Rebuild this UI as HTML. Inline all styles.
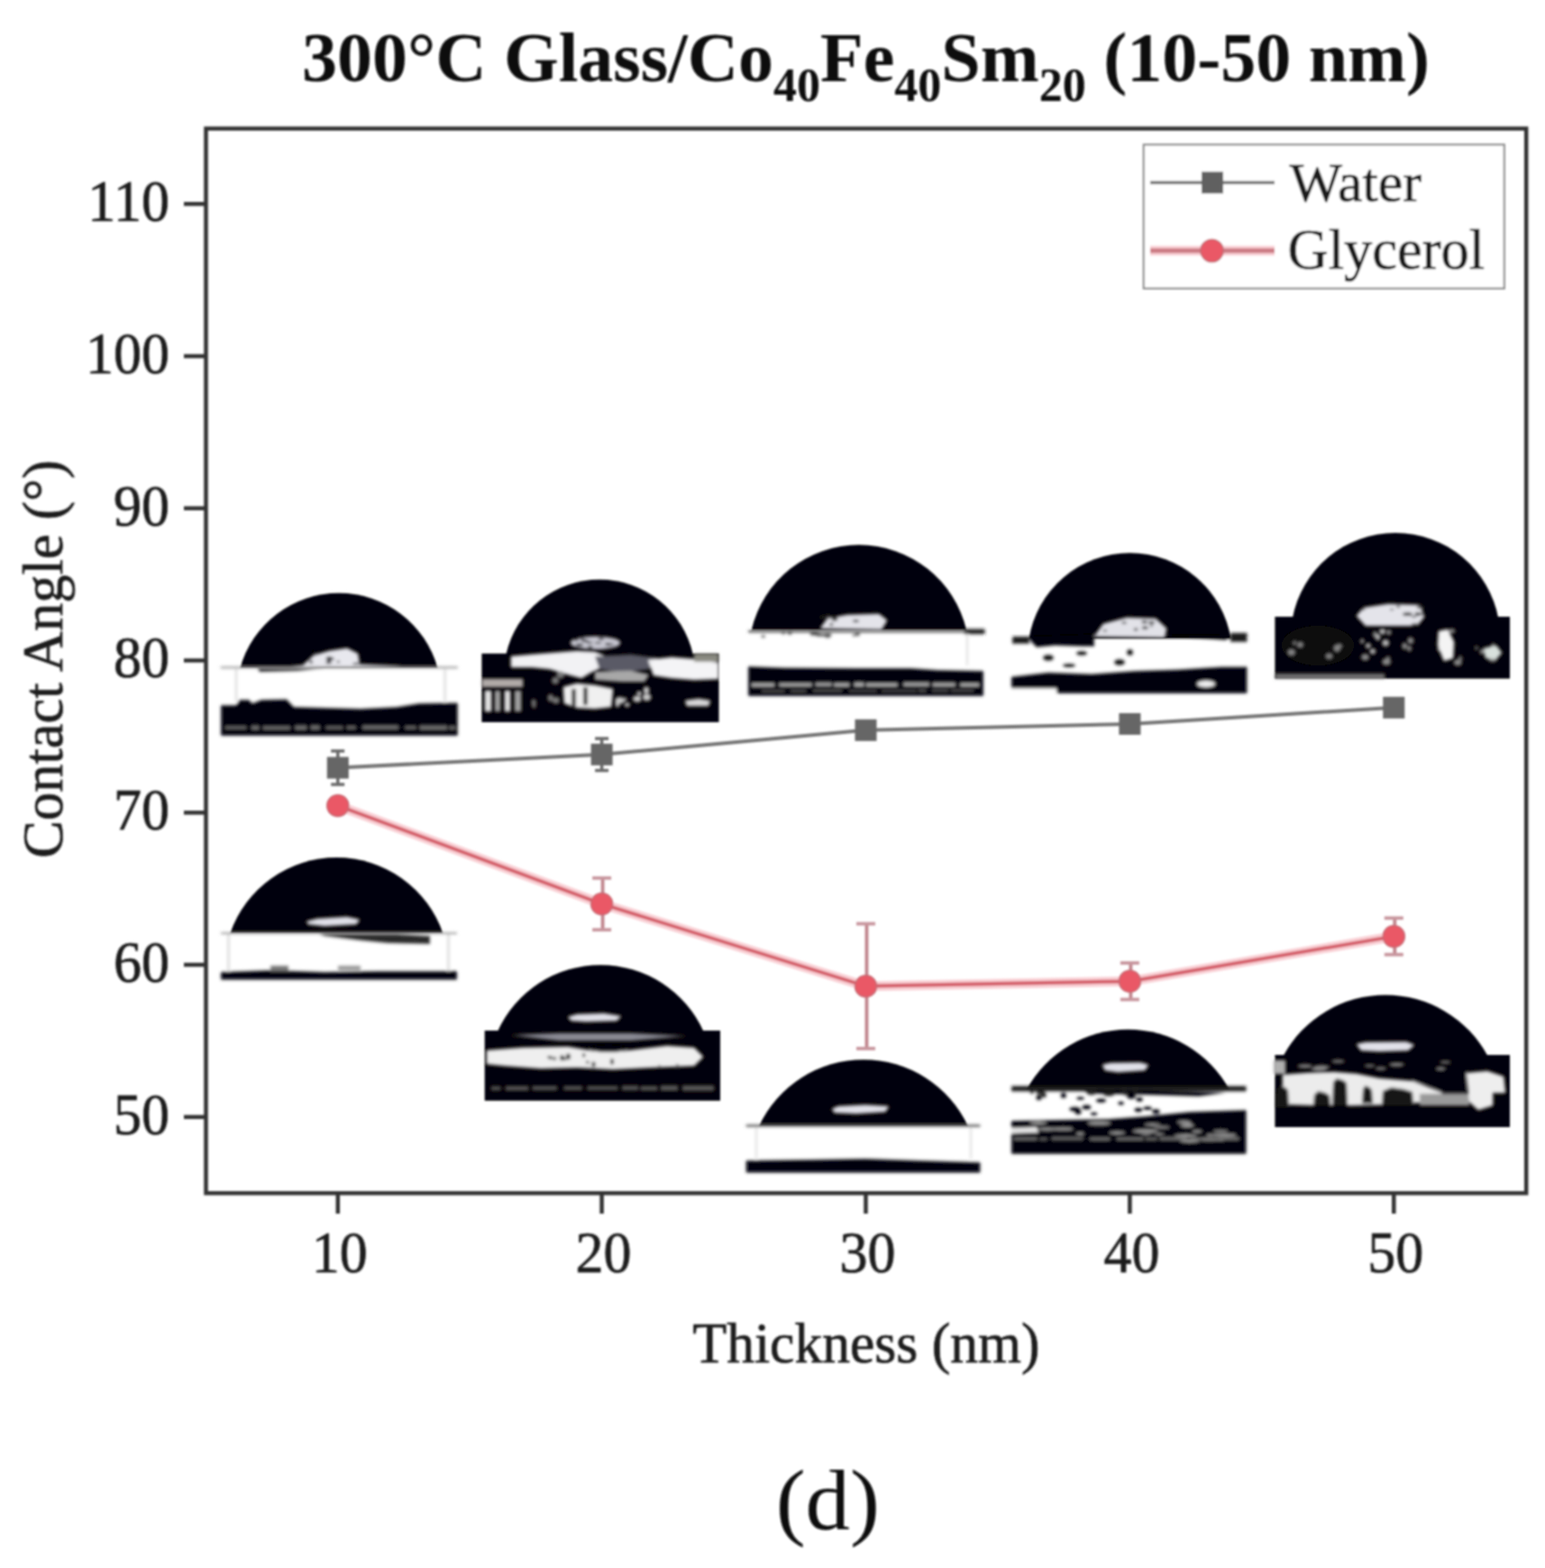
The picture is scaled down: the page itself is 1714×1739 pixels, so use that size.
<!DOCTYPE html>
<html><head><meta charset="utf-8"><title>Contact Angle vs Thickness</title>
<style>
html,body{margin:0;padding:0;background:#fff;}
body{width:1714px;height:1739px;overflow:hidden;}
svg{display:block;}
text{font-family:"Liberation Serif","Times New Roman",serif;}
.r{stroke:#1e1e1e;stroke-width:0.7px;}
</style></head><body>
<svg width="1714" height="1739" viewBox="0 0 1714 1739">
<defs><filter id="b" x="-2%" y="-2%" width="104%" height="104%"><feGaussianBlur stdDeviation="0.8"/></filter><filter id="t" x="-5%" y="-5%" width="110%" height="110%"><feGaussianBlur stdDeviation="1.4"/></filter></defs>
<rect width="1714" height="1739" fill="#fff"/>
<g filter="url(#b)">
<g><rect x="245.0" y="740.0" width="262.8" height="76.0" fill="#fff" /><path d="M266.4,741.0 A113.7,113.7 0 0 1 485.5,741.0 Z" fill="#050308"/><g filter="url(#t)"><polygon points="285.0,740.0 288.0,745.0 330.0,744.0 360.0,741.0" fill="#050308" /><polygon points="336.0,738.0 348.0,727.0 365.0,722.0 385.0,719.0 397.0,725.0 399.0,738.0" fill="#e8e8ee" /><ellipse cx="365.3" cy="730.4" rx="3.6" ry="2.1" fill="#050308" /><ellipse cx="368.4" cy="730.8" rx="2.2" ry="1.2" fill="#050308" /><ellipse cx="375.3" cy="733.9" rx="1.6" ry="1.1" fill="#050308" /><ellipse cx="345.1" cy="734.1" rx="1.9" ry="1.8" fill="#050308" /><ellipse cx="395.0" cy="736.5" rx="3.4" ry="1.8" fill="#050308" /><ellipse cx="348.8" cy="722.2" rx="1.8" ry="1.6" fill="#050308" /><ellipse cx="350.7" cy="725.6" rx="1.8" ry="1.0" fill="#050308" /><ellipse cx="364.7" cy="734.6" rx="3.2" ry="1.6" fill="#050308" /><polygon points="300.0,741.0 340.0,737.5 400.0,737.0 440.0,738.5 470.0,741.0" fill="#e4e4ea" /><rect x="244.7" y="739.0" width="263.1" height="2.5" fill="#a8a8a8" /><rect x="261.0" y="741.0" width="2.0" height="37.0" fill="#d4d4d4" /><rect x="492.6" y="741.0" width="2.0" height="37.0" fill="#d4d4d4" /><polygon points="245.0,816.0 245.0,782.0 245.0,782.0 262.0,782.0 266.0,776.0 276.0,776.0 280.0,780.0 290.0,776.0 318.0,775.5 326.0,784.0 400.0,786.0 440.0,784.0 465.0,780.0 500.0,779.5 507.8,779.5 507.8,816.0" fill="#050308" /><rect x="250.0" y="805.7" width="23.2" height="2.6" fill="#707070" /><rect x="279.1" y="805.2" width="8.3" height="3.8" fill="#707070" /><rect x="291.7" y="805.6" width="30.1" height="3.3" fill="#707070" /><rect x="327.4" y="805.1" width="12.6" height="4.0" fill="#707070" /><rect x="344.7" y="805.0" width="9.9" height="3.9" fill="#707070" /><rect x="361.5" y="805.9" width="18.8" height="2.3" fill="#707070" /><rect x="384.7" y="805.5" width="9.9" height="2.8" fill="#707070" /><rect x="402.2" y="805.0" width="39.6" height="3.6" fill="#707070" /><rect x="449.4" y="805.6" width="12.3" height="2.7" fill="#707070" /><rect x="465.6" y="805.1" width="30.3" height="3.9" fill="#707070" /><rect x="498.2" y="805.6" width="6.8" height="3.1" fill="#707070" /></g></g>
<g><rect x="534.4" y="724.8" width="263.1" height="76.1" fill="#050308" /><path d="M561.5,725.5 A106.2,106.2 0 0 1 768.7,725.5 Z" fill="#050308"/><g filter="url(#t)"><polygon points="567.0,728.0 590.0,726.0 615.0,724.0 640.0,722.0 660.0,723.0 670.0,727.0 668.0,740.0 655.0,746.0 645.0,752.0 630.0,748.0 610.0,742.0 590.0,740.0 567.0,740.0" fill="#f2f2f4" /><polygon points="660.0,728.0 700.0,726.0 730.0,730.0 720.0,742.0 690.0,746.0 665.0,742.0" fill="#5a5a66" /><polygon points="719.0,732.0 745.0,729.0 770.0,731.0 797.0,735.0 797.0,753.0 770.0,754.0 745.0,752.0 725.0,749.0" fill="#f4f4f6" /><rect x="770.0" y="725.0" width="27.0" height="9.0" fill="#8a8a80" /><rect x="534.5" y="753.0" width="45.5" height="9.0" fill="#b0aaa8" /><polygon points="660.0,745.0 700.0,744.0 720.0,748.0 715.0,756.0 690.0,756.0 660.0,754.0" fill="#a8a8a8" /><rect x="538.0" y="766.0" width="7.0" height="23.0" fill="#e6e6e6" /><rect x="549.0" y="766.0" width="6.0" height="23.0" fill="#a0a0a0" /><rect x="560.0" y="766.0" width="6.0" height="23.0" fill="#e6e6e6" /><rect x="571.0" y="766.0" width="7.0" height="23.0" fill="#a0a0a0" /><polygon points="625.0,762.0 640.0,758.0 660.0,760.0 680.0,764.0 678.0,784.0 660.0,786.0 640.0,785.0 626.0,780.0" fill="#f0f0f0" /><rect x="634.0" y="764.0" width="5.0" height="20.0" fill="#333" /><rect x="647.0" y="762.0" width="5.0" height="20.0" fill="#333" /><ellipse cx="709.2" cy="769.1" rx="2.6" ry="2.4" fill="#c8c8c8" /><ellipse cx="685.0" cy="780.5" rx="2.2" ry="3.5" fill="#c8c8c8" /><ellipse cx="706.9" cy="775.1" rx="4.5" ry="3.3" fill="#c8c8c8" /><ellipse cx="717.5" cy="773.2" rx="4.5" ry="3.7" fill="#c8c8c8" /><ellipse cx="717.0" cy="765.6" rx="3.0" ry="3.9" fill="#c8c8c8" /><ellipse cx="687.5" cy="776.9" rx="5.0" ry="3.7" fill="#c8c8c8" /><ellipse cx="695.7" cy="781.6" rx="2.8" ry="2.1" fill="#c8c8c8" /><ellipse cx="693.3" cy="775.9" rx="1.4" ry="2.2" fill="#c8c8c8" /><ellipse cx="610.8" cy="774.0" rx="3.0" ry="3.9" fill="#777" /><ellipse cx="592.1" cy="778.5" rx="2.4" ry="2.7" fill="#777" /><ellipse cx="616.1" cy="754.8" rx="3.8" ry="3.8" fill="#777" /><ellipse cx="592.3" cy="782.0" rx="2.1" ry="3.1" fill="#777" /><ellipse cx="616.8" cy="776.7" rx="3.9" ry="3.5" fill="#777" /><ellipse cx="621.8" cy="748.4" rx="4.4" ry="3.9" fill="#777" /><polygon points="760.0,777.0 775.0,775.0 788.0,777.0 786.0,783.0 762.0,783.0" fill="#d8d8d8" /><ellipse cx="660.5" cy="713.0" rx="27.5" ry="7.0" fill="#c8c8d2" /><ellipse cx="654.7" cy="718.1" rx="3.0" ry="1.5" fill="#050308" /><ellipse cx="678.0" cy="714.6" rx="3.2" ry="0.8" fill="#050308" /><ellipse cx="649.0" cy="710.7" rx="3.4" ry="1.1" fill="#050308" /><ellipse cx="642.8" cy="715.2" rx="4.1" ry="1.5" fill="#050308" /><ellipse cx="674.3" cy="714.5" rx="2.9" ry="1.5" fill="#050308" /><ellipse cx="653.9" cy="712.6" rx="3.5" ry="0.9" fill="#050308" /><ellipse cx="666.9" cy="708.2" rx="3.2" ry="1.3" fill="#050308" /><ellipse cx="645.9" cy="708.9" rx="2.0" ry="1.2" fill="#050308" /><ellipse cx="663.5" cy="713.2" rx="3.3" ry="0.9" fill="#050308" /><ellipse cx="638.9" cy="709.1" rx="3.0" ry="1.5" fill="#050308" /></g></g>
<g><rect x="830.0" y="698.0" width="261.0" height="74.0" fill="#fff" /><path d="M833.6,699.0 A122.5,122.5 0 0 1 1072.2,699.0 Z" fill="#050308"/><g filter="url(#t)"><rect x="1070.0" y="697.5" width="22.5" height="6.0" fill="#222" /><rect x="830.0" y="699.0" width="242.0" height="2.5" fill="#444" /><ellipse cx="908.4" cy="704.2" rx="3.5" ry="1.8" fill="#555" /><ellipse cx="918.2" cy="705.5" rx="3.4" ry="1.9" fill="#555" /><ellipse cx="918.2" cy="704.1" rx="4.4" ry="1.5" fill="#555" /><ellipse cx="903.4" cy="703.2" rx="4.8" ry="1.9" fill="#555" /><ellipse cx="876.2" cy="702.5" rx="2.4" ry="1.5" fill="#555" /><ellipse cx="912.9" cy="704.7" rx="4.0" ry="1.4" fill="#555" /><ellipse cx="951.4" cy="703.8" rx="2.8" ry="1.7" fill="#555" /><ellipse cx="846.7" cy="705.9" rx="2.3" ry="1.3" fill="#555" /><ellipse cx="947.6" cy="704.7" rx="2.2" ry="1.1" fill="#555" /><ellipse cx="869.1" cy="702.4" rx="2.3" ry="1.0" fill="#555" /><polygon points="910.0,697.0 918.0,686.0 940.0,682.0 975.0,681.0 984.0,688.0 978.0,698.0" fill="#e4e4ea" /><ellipse cx="912.9" cy="684.5" rx="2.8" ry="1.4" fill="#222" /><ellipse cx="921.7" cy="684.5" rx="2.6" ry="1.2" fill="#222" /><ellipse cx="922.3" cy="692.6" rx="2.0" ry="1.7" fill="#222" /><ellipse cx="949.5" cy="688.8" rx="3.5" ry="1.4" fill="#222" /><ellipse cx="918.5" cy="683.3" rx="3.1" ry="1.9" fill="#222" /><ellipse cx="925.9" cy="687.3" rx="3.3" ry="1.4" fill="#222" /><ellipse cx="926.7" cy="685.8" rx="2.9" ry="1.6" fill="#222" /><rect x="1072.0" y="703.0" width="2.0" height="35.0" fill="#dcdcdc" /><polygon points="830.0,772.0 830.0,739.0 830.0,739.0 870.0,740.5 950.0,741.0 1010.0,741.0 1040.0,743.0 1091.0,744.0 1091.0,744.0 1091.0,772.0" fill="#050308" /><rect x="834.0" y="757.9" width="24.9" height="3.5" fill="#b0b0b0" /><rect x="864.4" y="758.0" width="36.2" height="2.9" fill="#b0b0b0" /><rect x="904.9" y="757.5" width="17.8" height="3.1" fill="#b0b0b0" /><rect x="925.2" y="757.8" width="16.8" height="3.4" fill="#b0b0b0" /><rect x="947.7" y="757.2" width="10.8" height="3.8" fill="#b0b0b0" /><rect x="960.8" y="758.0" width="34.8" height="3.1" fill="#b0b0b0" /><rect x="1002.4" y="757.3" width="28.4" height="3.4" fill="#b0b0b0" /><rect x="1034.6" y="757.6" width="25.1" height="3.3" fill="#b0b0b0" /><rect x="1065.3" y="757.9" width="20.7" height="3.2" fill="#b0b0b0" /><rect x="845.0" y="765.3" width="25.6" height="2.3" fill="#555" /><rect x="877.1" y="765.1" width="17.1" height="2.4" fill="#555" /><rect x="902.0" y="764.7" width="32.2" height="2.3" fill="#555" /><rect x="941.7" y="765.3" width="31.0" height="1.8" fill="#555" /><rect x="978.2" y="765.3" width="38.6" height="1.8" fill="#555" /><rect x="1018.8" y="764.5" width="8.8" height="2.5" fill="#555" /><rect x="1033.7" y="764.6" width="18.4" height="2.2" fill="#555" /><rect x="1055.0" y="764.6" width="25.0" height="2.2" fill="#555" /></g></g>
<g><rect x="1122.0" y="707.0" width="262.0" height="62.0" fill="#fff" /><path d="M1141.4,709.0 A113.5,113.5 0 0 1 1365.6,709.0 Z" fill="#050308"/><g filter="url(#t)"><rect x="1123.0" y="706.0" width="19.0" height="8.0" fill="#1a1a1a" /><rect x="1365.0" y="702.0" width="18.5" height="10.0" fill="#1a1a1a" /><polygon points="1142.0,706.0 1200.0,704.0 1214.0,703.0 1214.0,717.0 1202.0,717.0 1170.0,716.0 1150.0,718.0 1144.0,712.0" fill="#050308" /><polygon points="1290.0,704.0 1365.0,705.0 1360.0,710.0 1320.0,707.0" fill="#050308" /><polygon points="1214.0,706.0 1224.0,692.0 1250.0,685.0 1282.0,686.0 1294.0,697.0 1292.0,707.0" fill="#e2e2e8" /><ellipse cx="1247.1" cy="690.7" rx="2.8" ry="1.2" fill="#333" /><ellipse cx="1260.1" cy="698.0" rx="2.4" ry="1.6" fill="#333" /><ellipse cx="1270.3" cy="696.2" rx="3.5" ry="1.8" fill="#333" /><ellipse cx="1277.4" cy="694.0" rx="1.4" ry="1.2" fill="#333" /><ellipse cx="1269.7" cy="689.7" rx="3.2" ry="1.7" fill="#333" /><ellipse cx="1225.9" cy="699.5" rx="2.4" ry="1.0" fill="#333" /><ellipse cx="1277.5" cy="690.5" rx="3.6" ry="1.7" fill="#333" /><ellipse cx="1163.0" cy="729.5" rx="6.0" ry="3.5" fill="#151515" /><ellipse cx="1242.0" cy="734.5" rx="6.0" ry="3.5" fill="#151515" /><ellipse cx="1253.5" cy="723.5" rx="3.5" ry="3.5" fill="#151515" /><ellipse cx="1200.0" cy="724.5" rx="6.0" ry="2.5" fill="#151515" /><ellipse cx="1186.0" cy="738.0" rx="7.0" ry="2.0" fill="#151515" /><polygon points="1122.0,769.0 1122.0,750.6 1122.0,750.6 1163.0,745.8 1211.0,747.4 1259.0,744.0 1307.0,742.6 1355.0,739.4 1383.5,739.4 1383.5,739.4 1383.5,769.0" fill="#050308" /><ellipse cx="1338.0" cy="758.5" rx="10.0" ry="3.5" fill="#f0f0f0" /><rect x="1122.0" y="763.4" width="50.0" height="6.1" fill="#fff" /></g></g>
<g><rect x="1414.4" y="684.0" width="260.6" height="68.6" fill="#050308" /><path d="M1433.8,686.0 A116.2,116.2 0 0 1 1662.3,686.0 Z" fill="#050308"/><g filter="url(#t)"><ellipse cx="1462.0" cy="716.0" rx="40.0" ry="22.0" fill="#110e11" /><ellipse cx="1486.0" cy="716.6" rx="2.4" ry="1.8" fill="#8a8a8a" /><ellipse cx="1483.2" cy="718.8" rx="3.0" ry="3.4" fill="#8a8a8a" /><ellipse cx="1652.6" cy="726.5" rx="2.9" ry="2.6" fill="#8a8a8a" /><ellipse cx="1564.8" cy="710.5" rx="3.2" ry="3.5" fill="#8a8a8a" /><ellipse cx="1656.3" cy="731.7" rx="1.2" ry="1.6" fill="#8a8a8a" /><ellipse cx="1539.9" cy="730.0" rx="2.1" ry="1.9" fill="#8a8a8a" /><ellipse cx="1514.5" cy="728.8" rx="4.2" ry="3.4" fill="#8a8a8a" /><ellipse cx="1474.5" cy="727.7" rx="3.2" ry="2.4" fill="#8a8a8a" /><ellipse cx="1538.1" cy="734.0" rx="4.6" ry="3.5" fill="#8a8a8a" /><ellipse cx="1620.0" cy="730.2" rx="1.8" ry="2.7" fill="#8a8a8a" /><ellipse cx="1656.8" cy="715.0" rx="1.4" ry="1.5" fill="#8a8a8a" /><ellipse cx="1525.4" cy="703.6" rx="2.1" ry="3.4" fill="#8a8a8a" /><ellipse cx="1638.0" cy="718.6" rx="1.6" ry="1.9" fill="#8a8a8a" /><ellipse cx="1533.6" cy="700.1" rx="3.5" ry="3.0" fill="#8a8a8a" /><ellipse cx="1655.9" cy="730.7" rx="4.6" ry="3.1" fill="#8a8a8a" /><ellipse cx="1644.3" cy="722.7" rx="2.6" ry="2.6" fill="#8a8a8a" /><ellipse cx="1617.2" cy="734.8" rx="4.2" ry="3.2" fill="#8a8a8a" /><ellipse cx="1436.3" cy="713.1" rx="1.8" ry="1.7" fill="#8a8a8a" /><ellipse cx="1563.4" cy="719.1" rx="2.3" ry="3.2" fill="#8a8a8a" /><ellipse cx="1597.6" cy="720.2" rx="2.8" ry="1.9" fill="#8a8a8a" /><ellipse cx="1442.3" cy="715.0" rx="2.8" ry="2.6" fill="#8a8a8a" /><ellipse cx="1655.9" cy="718.7" rx="2.6" ry="3.3" fill="#8a8a8a" /><ellipse cx="1540.7" cy="701.3" rx="2.6" ry="2.8" fill="#8a8a8a" /><ellipse cx="1610.5" cy="699.8" rx="3.5" ry="2.4" fill="#8a8a8a" /><ellipse cx="1432.6" cy="723.4" rx="3.5" ry="2.9" fill="#8a8a8a" /><ellipse cx="1558.2" cy="716.5" rx="2.7" ry="3.4" fill="#8a8a8a" /><ellipse cx="1522.8" cy="722.3" rx="3.0" ry="2.9" fill="#b8b8b8" /><ellipse cx="1537.2" cy="713.0" rx="3.6" ry="3.5" fill="#b8b8b8" /><ellipse cx="1533.6" cy="700.9" rx="2.8" ry="2.3" fill="#b8b8b8" /><ellipse cx="1528.6" cy="706.5" rx="2.4" ry="3.5" fill="#b8b8b8" /><ellipse cx="1511.2" cy="711.0" rx="1.7" ry="2.5" fill="#b8b8b8" /><ellipse cx="1517.8" cy="716.2" rx="2.6" ry="2.6" fill="#b8b8b8" /><polygon points="1596.0,700.0 1606.0,698.0 1613.0,712.0 1612.0,730.0 1602.0,733.0 1595.0,716.0" fill="#f4f4f4" /><polygon points="1646.0,719.0 1660.0,716.0 1666.0,724.0 1660.0,731.0 1648.0,730.0" fill="#d8e0dc" /><polygon points="1505.0,683.0 1513.0,674.0 1540.0,670.0 1575.0,671.0 1580.0,684.0 1572.0,694.0 1515.0,694.0" fill="#e4e4ea" /><ellipse cx="1575.5" cy="673.2" rx="3.8" ry="1.7" fill="#222" /><ellipse cx="1572.9" cy="681.0" rx="3.3" ry="1.9" fill="#222" /><ellipse cx="1576.6" cy="681.1" rx="2.4" ry="1.2" fill="#222" /><ellipse cx="1551.2" cy="672.8" rx="2.1" ry="1.4" fill="#222" /><ellipse cx="1511.9" cy="675.7" rx="2.4" ry="1.2" fill="#222" /><ellipse cx="1561.5" cy="681.2" rx="5.3" ry="1.9" fill="#222" /><ellipse cx="1569.7" cy="692.8" rx="4.0" ry="1.6" fill="#222" /><ellipse cx="1568.7" cy="684.0" rx="2.6" ry="1.1" fill="#222" /><ellipse cx="1544.1" cy="676.0" rx="1.9" ry="1.1" fill="#222" /><rect x="1414.4" y="747.5" width="121.6" height="5.1" fill="#7a7a7a" /></g></g>
<g><rect x="245.0" y="1034.0" width="262.0" height="52.4" fill="#fff" /><path d="M255.4,1035.0 A124.9,124.9 0 0 1 491.4,1035.0 Z" fill="#050308"/><g filter="url(#t)"><polygon points="348.0,1034.0 400.0,1035.0 440.0,1036.0 477.0,1038.0 477.0,1047.0 430.0,1046.0 400.0,1043.0 360.0,1038.0" fill="#2a2a2a" /><polygon points="340.0,1022.0 352.0,1019.0 385.0,1017.0 399.0,1020.0 395.0,1025.0 360.0,1027.0 342.0,1025.0" fill="#e2e2ea" /><rect x="245.0" y="1034.0" width="262.0" height="2.0" fill="#9a9a9a" /><rect x="252.5" y="1036.0" width="2.0" height="41.0" fill="#d0d0d0" /><rect x="496.5" y="1036.0" width="2.0" height="41.0" fill="#d0d0d0" /><polygon points="245.0,1086.4 245.0,1078.0 245.0,1078.0 300.0,1076.0 360.0,1078.0 420.0,1077.0 507.0,1077.0 507.0,1077.0 507.0,1086.4" fill="#050308" /><rect x="300.0" y="1071.0" width="20.0" height="6.0" fill="#777" /><rect x="375.0" y="1071.0" width="25.0" height="5.0" fill="#999" /></g></g>
<g><rect x="537.7" y="1143.0" width="261.3" height="77.7" fill="#050308" /><path d="M552.0,1144.0 A125.3,125.3 0 0 1 780.5,1144.0 Z" fill="#050308"/><g filter="url(#t)"><polygon points="568.0,1148.0 620.0,1146.0 700.0,1146.0 760.0,1149.0 700.0,1154.0 620.0,1154.0" fill="#8a8a94" /><polygon points="540.0,1165.0 580.0,1162.0 630.0,1161.0 660.0,1166.0 690.0,1166.0 740.0,1160.0 770.0,1162.0 780.0,1172.0 770.0,1182.0 720.0,1184.0 680.0,1186.0 640.0,1184.0 600.0,1185.0 560.0,1182.0 540.0,1180.0" fill="#efefef" /><ellipse cx="675.0" cy="1163.0" rx="22.0" ry="4.0" fill="#050308" /><ellipse cx="651.8" cy="1178.1" rx="1.8" ry="1.5" fill="#222" /><ellipse cx="731.5" cy="1183.0" rx="1.1" ry="2.0" fill="#222" /><ellipse cx="608.8" cy="1172.5" rx="1.5" ry="1.5" fill="#222" /><ellipse cx="658.5" cy="1180.6" rx="2.1" ry="3.0" fill="#222" /><ellipse cx="626.7" cy="1174.5" rx="1.4" ry="1.6" fill="#222" /><ellipse cx="630.4" cy="1171.9" rx="2.5" ry="3.3" fill="#222" /><ellipse cx="751.4" cy="1182.7" rx="1.7" ry="2.8" fill="#222" /><ellipse cx="623.6" cy="1173.2" rx="2.4" ry="3.0" fill="#222" /><ellipse cx="647.7" cy="1170.2" rx="1.6" ry="2.2" fill="#222" /><ellipse cx="611.1" cy="1173.2" rx="1.5" ry="2.1" fill="#222" /><ellipse cx="679.0" cy="1177.4" rx="2.0" ry="3.2" fill="#222" /><ellipse cx="615.2" cy="1173.9" rx="1.7" ry="1.9" fill="#222" /><rect x="545.0" y="1205.1" width="10.3" height="3.8" fill="#5a5a5a" /><rect x="560.9" y="1204.8" width="25.4" height="4.4" fill="#5a5a5a" /><rect x="590.6" y="1204.7" width="27.2" height="4.1" fill="#5a5a5a" /><rect x="625.6" y="1204.7" width="20.2" height="4.0" fill="#5a5a5a" /><rect x="651.5" y="1204.8" width="33.9" height="3.8" fill="#5a5a5a" /><rect x="690.1" y="1204.4" width="18.2" height="4.4" fill="#5a5a5a" /><rect x="710.4" y="1204.9" width="19.1" height="4.2" fill="#5a5a5a" /><rect x="732.8" y="1204.1" width="19.2" height="5.3" fill="#5a5a5a" /><rect x="757.0" y="1204.1" width="35.0" height="5.4" fill="#5a5a5a" /><polygon points="630.0,1128.0 640.0,1125.0 670.0,1124.0 689.0,1127.0 684.0,1132.0 650.0,1133.0 634.0,1132.0" fill="#e2e2ea" /></g></g>
<g><rect x="827.7" y="1247.0" width="259.7" height="53.4" fill="#fff" /><path d="M842.0,1249.0 A128.0,128.0 0 0 1 1073.9,1249.0 Z" fill="#050308"/><g filter="url(#t)"><rect x="827.7" y="1247.0" width="259.7" height="3.0" fill="#707070" /><polygon points="923.0,1230.0 930.0,1227.0 960.0,1225.5 986.0,1227.0 982.0,1233.0 950.0,1235.0 926.0,1234.0" fill="#e2e2ea" /><rect x="838.0" y="1250.0" width="2.0" height="35.0" fill="#dddddd" /><rect x="1076.0" y="1250.0" width="2.0" height="35.0" fill="#dddddd" /><polygon points="827.7,1300.4 827.7,1287.0 827.7,1287.0 900.0,1286.0 960.0,1285.0 1020.0,1287.0 1087.4,1289.0 1087.4,1289.0 1087.4,1300.4" fill="#050308" /></g></g>
<g><rect x="1122.0" y="1206.0" width="260.5" height="73.7" fill="#fff" /><path d="M1138.8,1208.5 A128.3,128.3 0 0 1 1363.9,1208.5 Z" fill="#050308"/><g filter="url(#t)"><rect x="1122.0" y="1204.5" width="260.5" height="6.0" fill="#1a1a1a" /><polygon points="1200.0,1209.0 1280.0,1210.0 1360.0,1212.0 1330.0,1216.0 1260.0,1214.0 1210.0,1213.0" fill="#050308" /><ellipse cx="1248.6" cy="1212.5" rx="3.6" ry="2.3" fill="#222" /><ellipse cx="1144.8" cy="1211.5" rx="2.1" ry="1.8" fill="#222" /><ellipse cx="1150.9" cy="1209.2" rx="2.7" ry="2.3" fill="#222" /><ellipse cx="1210.8" cy="1211.6" rx="5.7" ry="2.9" fill="#222" /><ellipse cx="1230.2" cy="1213.5" rx="6.3" ry="2.6" fill="#222" /><ellipse cx="1259.6" cy="1210.1" rx="2.8" ry="1.9" fill="#222" /><ellipse cx="1157.7" cy="1214.4" rx="3.2" ry="2.9" fill="#222" /><ellipse cx="1151.8" cy="1215.4" rx="1.9" ry="1.7" fill="#222" /><ellipse cx="1246.4" cy="1211.0" rx="2.8" ry="1.5" fill="#222" /><ellipse cx="1154.6" cy="1211.7" rx="4.4" ry="2.0" fill="#222" /><polygon points="1223.0,1181.0 1232.0,1179.0 1265.0,1178.5 1274.0,1181.0 1270.0,1187.0 1240.0,1189.0 1226.0,1187.0" fill="#e2e2ea" /><ellipse cx="1152.5" cy="1217.8" rx="3.1" ry="2.5" fill="#050308" /><ellipse cx="1282.4" cy="1232.6" rx="4.4" ry="2.6" fill="#050308" /><ellipse cx="1264.1" cy="1219.4" rx="3.7" ry="2.4" fill="#050308" /><ellipse cx="1213.6" cy="1235.2" rx="3.9" ry="1.8" fill="#050308" /><ellipse cx="1255.0" cy="1215.9" rx="5.0" ry="3.0" fill="#050308" /><ellipse cx="1221.5" cy="1220.6" rx="5.7" ry="2.3" fill="#050308" /><ellipse cx="1192.4" cy="1230.1" rx="6.2" ry="2.7" fill="#050308" /><ellipse cx="1243.6" cy="1223.5" rx="3.2" ry="2.0" fill="#050308" /><ellipse cx="1196.1" cy="1233.5" rx="3.6" ry="2.7" fill="#050308" /><ellipse cx="1179.8" cy="1215.0" rx="3.2" ry="2.9" fill="#050308" /><ellipse cx="1198.6" cy="1218.0" rx="4.3" ry="1.8" fill="#050308" /><ellipse cx="1205.4" cy="1227.9" rx="4.9" ry="2.7" fill="#050308" /><ellipse cx="1262.9" cy="1231.0" rx="4.4" ry="2.4" fill="#050308" /><ellipse cx="1273.1" cy="1228.9" rx="4.7" ry="2.0" fill="#050308" /><polygon points="1122.0,1279.7 1122.0,1243.0 1122.0,1243.0 1170.0,1242.0 1230.0,1241.0 1270.0,1238.0 1320.0,1233.0 1382.5,1231.0 1382.5,1231.0 1382.5,1279.7" fill="#050308" /><polygon points="1122.0,1251.0 1150.0,1250.0 1152.0,1256.0 1122.0,1257.0" fill="#e8e8e8" /><ellipse cx="1239.3" cy="1256.4" rx="8.7" ry="1.5" fill="#9a9a9a" /><ellipse cx="1319.8" cy="1265.3" rx="11.3" ry="1.6" fill="#9a9a9a" /><ellipse cx="1270.9" cy="1254.4" rx="14.4" ry="1.8" fill="#9a9a9a" /><ellipse cx="1271.4" cy="1257.9" rx="6.4" ry="0.9" fill="#9a9a9a" /><ellipse cx="1286.1" cy="1257.9" rx="5.9" ry="1.0" fill="#9a9a9a" /><ellipse cx="1278.5" cy="1247.4" rx="8.7" ry="1.3" fill="#9a9a9a" /><ellipse cx="1315.4" cy="1259.7" rx="12.5" ry="1.6" fill="#9a9a9a" /><ellipse cx="1317.7" cy="1245.5" rx="3.9" ry="1.2" fill="#9a9a9a" /><ellipse cx="1342.5" cy="1259.2" rx="4.1" ry="1.1" fill="#9a9a9a" /><ellipse cx="1198.3" cy="1257.4" rx="4.2" ry="1.4" fill="#9a9a9a" /><ellipse cx="1288.5" cy="1250.3" rx="9.1" ry="1.1" fill="#9a9a9a" /><ellipse cx="1341.6" cy="1263.3" rx="10.9" ry="1.9" fill="#9a9a9a" /><ellipse cx="1161.8" cy="1252.3" rx="11.7" ry="1.5" fill="#9a9a9a" /><ellipse cx="1219.3" cy="1245.6" rx="12.8" ry="1.9" fill="#9a9a9a" /><ellipse cx="1327.9" cy="1254.8" rx="5.3" ry="1.2" fill="#9a9a9a" /><ellipse cx="1179.5" cy="1252.1" rx="11.5" ry="1.5" fill="#9a9a9a" /><ellipse cx="1354.1" cy="1254.7" rx="8.3" ry="1.1" fill="#9a9a9a" /><ellipse cx="1151.8" cy="1245.6" rx="9.7" ry="1.6" fill="#9a9a9a" /><ellipse cx="1358.3" cy="1259.0" rx="13.1" ry="1.8" fill="#9a9a9a" /><ellipse cx="1352.0" cy="1263.5" rx="8.7" ry="1.4" fill="#9a9a9a" /><ellipse cx="1313.1" cy="1244.5" rx="7.2" ry="1.4" fill="#9a9a9a" /><ellipse cx="1317.0" cy="1248.3" rx="7.4" ry="1.8" fill="#9a9a9a" /><rect x="1125.0" y="1261.7" width="25.5" height="2.4" fill="#777" /><rect x="1153.2" y="1262.5" width="8.5" height="1.6" fill="#777" /><rect x="1166.8" y="1261.4" width="34.7" height="2.3" fill="#777" /><rect x="1209.2" y="1261.9" width="22.0" height="2.6" fill="#777" /><rect x="1238.9" y="1262.0" width="29.5" height="2.4" fill="#777" /><rect x="1270.7" y="1262.2" width="13.1" height="1.8" fill="#777" /><rect x="1286.6" y="1261.5" width="30.1" height="2.6" fill="#777" /><rect x="1320.4" y="1262.1" width="33.2" height="2.4" fill="#777" /><rect x="1357.6" y="1261.4" width="16.9" height="2.7" fill="#777" /></g></g>
<g><rect x="1414.4" y="1170.0" width="260.6" height="80.0" fill="#050308" /><path d="M1423.7,1171.0 A128.9,128.9 0 0 1 1650.4,1171.0 Z" fill="#050308"/><g filter="url(#t)"><rect x="1413.0" y="1176.0" width="13.0" height="15.0" fill="#b0b0b0" /><polygon points="1423.0,1192.0 1450.0,1190.0 1480.0,1189.0 1505.0,1191.0 1530.0,1196.0 1567.0,1199.0 1585.0,1206.0 1600.0,1212.0 1598.0,1222.0 1570.0,1223.0 1540.0,1225.0 1500.0,1226.0 1460.0,1226.0 1430.0,1225.0 1423.0,1215.0" fill="#ececec" /><polygon points="1416.0,1228.0 1417.0,1208.0 1420.2,1204.0 1425.8,1206.0 1429.0,1209.0 1430.0,1228.0" fill="#181818" /><polygon points="1457.0,1226.0 1458.0,1214.0 1462.7,1210.0 1470.3,1212.0 1475.0,1215.0 1476.0,1226.0" fill="#181818" /><polygon points="1478.0,1226.0 1479.0,1200.0 1483.1,1196.0 1489.9,1198.0 1494.0,1201.0 1495.0,1226.0" fill="#181818" /><polygon points="1511.0,1224.0 1512.0,1208.0 1514.6,1204.0 1519.4,1206.0 1522.0,1209.0 1523.0,1224.0" fill="#181818" /><polygon points="1533.0,1226.0 1534.0,1210.0 1543.5,1206.0 1557.5,1208.0 1567.0,1211.0 1568.0,1226.0" fill="#181818" /><polygon points="1567.0,1184.0 1627.0,1184.0 1627.0,1212.0 1600.0,1212.0 1585.0,1204.0 1567.0,1199.0" fill="#050308" /><rect x="1575.0" y="1213.0" width="55.0" height="13.0" fill="#9a9a9a" /><polygon points="1627.0,1190.0 1650.0,1188.0 1668.0,1194.0 1670.0,1212.0 1656.0,1212.0 1656.0,1226.0 1640.0,1231.0 1630.0,1222.0" fill="#eeeeee" /><polygon points="1505.0,1158.0 1515.0,1156.0 1560.0,1155.5 1569.0,1159.0 1562.0,1165.0 1530.0,1166.0 1510.0,1165.0" fill="#e2e2ea" /><ellipse cx="1466.7" cy="1183.4" rx="6.1" ry="1.3" fill="#888" /><ellipse cx="1549.4" cy="1180.6" rx="8.2" ry="1.9" fill="#888" /><ellipse cx="1447.8" cy="1182.4" rx="7.9" ry="1.9" fill="#888" /><ellipse cx="1598.3" cy="1184.8" rx="4.6" ry="1.6" fill="#888" /><ellipse cx="1463.0" cy="1185.7" rx="9.0" ry="2.0" fill="#888" /><ellipse cx="1519.5" cy="1182.0" rx="5.5" ry="1.3" fill="#888" /><ellipse cx="1466.2" cy="1183.5" rx="9.1" ry="1.9" fill="#888" /><ellipse cx="1484.4" cy="1177.1" rx="7.1" ry="1.5" fill="#888" /><ellipse cx="1531.8" cy="1185.0" rx="5.9" ry="1.6" fill="#888" /><ellipse cx="1603.4" cy="1178.0" rx="5.7" ry="1.3" fill="#888" /></g></g>
<rect x="228.5" y="142.6" width="1464.7" height="1180.7" fill="none" stroke="#333" stroke-width="4.5"/>
<line x1="204" y1="1238.8" x2="228.5" y2="1238.8" stroke="#333" stroke-width="4.5"/>
<text transform="translate(188,1257.6) scale(1,1.06)" font-size="62" text-anchor="end" fill="#1e1e1e" class="r">50</text>
<line x1="204" y1="1070.0" x2="228.5" y2="1070.0" stroke="#333" stroke-width="4.5"/>
<text transform="translate(188,1088.8) scale(1,1.06)" font-size="62" text-anchor="end" fill="#1e1e1e" class="r">60</text>
<line x1="204" y1="901.3" x2="228.5" y2="901.3" stroke="#333" stroke-width="4.5"/>
<text transform="translate(188,920.1) scale(1,1.06)" font-size="62" text-anchor="end" fill="#1e1e1e" class="r">70</text>
<line x1="204" y1="732.5" x2="228.5" y2="732.5" stroke="#333" stroke-width="4.5"/>
<text transform="translate(188,751.3) scale(1,1.06)" font-size="62" text-anchor="end" fill="#1e1e1e" class="r">80</text>
<line x1="204" y1="563.7" x2="228.5" y2="563.7" stroke="#333" stroke-width="4.5"/>
<text transform="translate(188,582.5) scale(1,1.06)" font-size="62" text-anchor="end" fill="#1e1e1e" class="r">90</text>
<line x1="204" y1="395.0" x2="228.5" y2="395.0" stroke="#333" stroke-width="4.5"/>
<text transform="translate(188,413.8) scale(1,1.06)" font-size="62" text-anchor="end" fill="#1e1e1e" class="r">100</text>
<line x1="204" y1="226.2" x2="228.5" y2="226.2" stroke="#333" stroke-width="4.5"/>
<text transform="translate(188,245.0) scale(1,1.06)" font-size="62" text-anchor="end" fill="#1e1e1e" class="r">110</text>
<line x1="374.8" y1="1323.3" x2="374.8" y2="1346" stroke="#333" stroke-width="4.5"/>
<text transform="translate(376.8,1411) scale(1,1.04)" font-size="62" text-anchor="middle" fill="#1e1e1e" class="r">10</text>
<line x1="667.6" y1="1323.3" x2="667.6" y2="1346" stroke="#333" stroke-width="4.5"/>
<text transform="translate(669.6,1411) scale(1,1.04)" font-size="62" text-anchor="middle" fill="#1e1e1e" class="r">20</text>
<line x1="960.5" y1="1323.3" x2="960.5" y2="1346" stroke="#333" stroke-width="4.5"/>
<text transform="translate(962.5,1411) scale(1,1.04)" font-size="62" text-anchor="middle" fill="#1e1e1e" class="r">30</text>
<line x1="1253.4" y1="1323.3" x2="1253.4" y2="1346" stroke="#333" stroke-width="4.5"/>
<text transform="translate(1255.4,1411) scale(1,1.04)" font-size="62" text-anchor="middle" fill="#1e1e1e" class="r">40</text>
<line x1="1546.3" y1="1323.3" x2="1546.3" y2="1346" stroke="#333" stroke-width="4.5"/>
<text transform="translate(1548.3,1411) scale(1,1.04)" font-size="62" text-anchor="middle" fill="#1e1e1e" class="r">50</text>
<text transform="translate(961,1511) scale(1,1.03)" font-size="61.6" text-anchor="middle" fill="#1e1e1e" class="r">Thickness (nm)</text>
<text transform="translate(69,731) rotate(-90)" font-size="62.5" text-anchor="middle" fill="#1e1e1e" class="r">Contact Angle (°)</text>
<text x="335" y="89.5" font-size="78" font-weight="bold" fill="#0a0a0a">300°C Glass/Co<tspan font-size="52" dy="22">40</tspan><tspan dy="-22">Fe</tspan><tspan font-size="52" dy="22">40</tspan><tspan dy="-22">Sm</tspan><tspan font-size="52" dy="22">20</tspan><tspan dy="-22"> (10-50 nm)</tspan></text>
<text transform="translate(918.3,1696) scale(1.03,1)" font-size="96" text-anchor="middle" fill="#0a0a0a">(d)</text>
<polyline points="374.8,851.5 667.6,836.8 960.5,809.8 1253.4,802.9 1546.3,784.8" fill="none" stroke="#767676" stroke-width="4"/>
<line x1="374.8" y1="832.9" x2="374.8" y2="870.0" stroke="#6a6a6a" stroke-width="3.5"/>
<line x1="367.2" y1="832.9" x2="382.2" y2="832.9" stroke="#6a6a6a" stroke-width="3.5"/>
<line x1="367.2" y1="870.0" x2="382.2" y2="870.0" stroke="#6a6a6a" stroke-width="3.5"/>
<rect x="362.8" y="839.5" width="24" height="24" fill="#666"/>
<line x1="667.6" y1="819.1" x2="667.6" y2="854.5" stroke="#6a6a6a" stroke-width="3.5"/>
<line x1="660.1" y1="819.1" x2="675.1" y2="819.1" stroke="#6a6a6a" stroke-width="3.5"/>
<line x1="660.1" y1="854.5" x2="675.1" y2="854.5" stroke="#6a6a6a" stroke-width="3.5"/>
<rect x="655.6" y="824.8" width="24" height="24" fill="#666"/>
<line x1="960.5" y1="804.7" x2="960.5" y2="814.8" stroke="#6a6a6a" stroke-width="3.5"/>
<line x1="953.0" y1="804.7" x2="968.0" y2="804.7" stroke="#6a6a6a" stroke-width="3.5"/>
<line x1="953.0" y1="814.8" x2="968.0" y2="814.8" stroke="#6a6a6a" stroke-width="3.5"/>
<rect x="948.5" y="797.8" width="24" height="24" fill="#666"/>
<line x1="1253.4" y1="797.8" x2="1253.4" y2="807.9" stroke="#6a6a6a" stroke-width="3.5"/>
<line x1="1245.9" y1="797.8" x2="1260.9" y2="797.8" stroke="#6a6a6a" stroke-width="3.5"/>
<line x1="1245.9" y1="807.9" x2="1260.9" y2="807.9" stroke="#6a6a6a" stroke-width="3.5"/>
<rect x="1241.4" y="790.9" width="24" height="24" fill="#666"/>
<line x1="1546.3" y1="779.7" x2="1546.3" y2="789.9" stroke="#6a6a6a" stroke-width="3.5"/>
<line x1="1538.8" y1="779.7" x2="1553.8" y2="779.7" stroke="#6a6a6a" stroke-width="3.5"/>
<line x1="1538.8" y1="789.9" x2="1553.8" y2="789.9" stroke="#6a6a6a" stroke-width="3.5"/>
<rect x="1534.3" y="772.8" width="24" height="24" fill="#666"/>
<polyline points="374.8,893.5 667.6,1002.5 960.5,1093.7 1253.4,1088.3 1546.3,1038.5" fill="none" stroke="#f9d0d5" stroke-width="11"/>
<polyline points="374.8,893.5 667.6,1002.5 960.5,1093.7 1253.4,1088.3 1546.3,1038.5" fill="none" stroke="#d6646e" stroke-width="4.2"/>
<line x1="375.8" y1="888.4" x2="375.8" y2="898.6" stroke="#c0848c" stroke-width="3.8"/>
<line x1="364.2" y1="888.4" x2="385.2" y2="888.4" stroke="#c8969e" stroke-width="3.8"/>
<line x1="364.2" y1="898.6" x2="385.2" y2="898.6" stroke="#c8969e" stroke-width="3.8"/>
<circle cx="374.8" cy="893.5" r="12" fill="#ea5866" stroke="#c86872" stroke-width="1.6"/>
<line x1="668.6" y1="973.8" x2="668.6" y2="1031.2" stroke="#c0848c" stroke-width="3.8"/>
<line x1="657.1" y1="973.8" x2="678.1" y2="973.8" stroke="#c8969e" stroke-width="3.8"/>
<line x1="657.1" y1="1031.2" x2="678.1" y2="1031.2" stroke="#c8969e" stroke-width="3.8"/>
<circle cx="667.6" cy="1002.5" r="12" fill="#ea5866" stroke="#c86872" stroke-width="1.6"/>
<line x1="961.5" y1="1024.5" x2="961.5" y2="1162.9" stroke="#c0848c" stroke-width="3.8"/>
<line x1="950.0" y1="1024.5" x2="971.0" y2="1024.5" stroke="#c8969e" stroke-width="3.8"/>
<line x1="950.0" y1="1162.9" x2="971.0" y2="1162.9" stroke="#c8969e" stroke-width="3.8"/>
<circle cx="960.5" cy="1093.7" r="12" fill="#ea5866" stroke="#c86872" stroke-width="1.6"/>
<line x1="1254.4" y1="1068.0" x2="1254.4" y2="1108.5" stroke="#c0848c" stroke-width="3.8"/>
<line x1="1242.9" y1="1068.0" x2="1263.9" y2="1068.0" stroke="#c8969e" stroke-width="3.8"/>
<line x1="1242.9" y1="1108.5" x2="1263.9" y2="1108.5" stroke="#c8969e" stroke-width="3.8"/>
<circle cx="1253.4" cy="1088.3" r="12" fill="#ea5866" stroke="#c86872" stroke-width="1.6"/>
<line x1="1547.3" y1="1018.2" x2="1547.3" y2="1058.7" stroke="#c0848c" stroke-width="3.8"/>
<line x1="1535.8" y1="1018.2" x2="1556.8" y2="1018.2" stroke="#c8969e" stroke-width="3.8"/>
<line x1="1535.8" y1="1058.7" x2="1556.8" y2="1058.7" stroke="#c8969e" stroke-width="3.8"/>
<circle cx="1546.3" cy="1038.5" r="12" fill="#ea5866" stroke="#c86872" stroke-width="1.6"/>
<rect x="1268.8" y="160.4" width="400" height="159.5" fill="#fff" stroke="#8c8c8c" stroke-width="2.2"/>
<line x1="1276" y1="202.5" x2="1414" y2="202.5" stroke="#727272" stroke-width="3.6"/>
<rect x="1333" y="190.5" width="24" height="24" fill="#606060"/>
<line x1="1276" y1="278" x2="1414" y2="278" stroke="#f9d0d5" stroke-width="11"/>
<line x1="1276" y1="278" x2="1414" y2="278" stroke="#cc7a84" stroke-width="5"/>
<circle cx="1344.5" cy="278" r="12.5" fill="#ea5866" stroke="#c86872" stroke-width="1.6"/>
<text x="1430.5" y="222.5" font-size="62" fill="#1e1e1e" class="r">Water</text>
<text x="1428.5" y="297.5" font-size="62.5" fill="#1e1e1e" class="r">Glycerol</text>
</g>
</svg>
</body></html>
